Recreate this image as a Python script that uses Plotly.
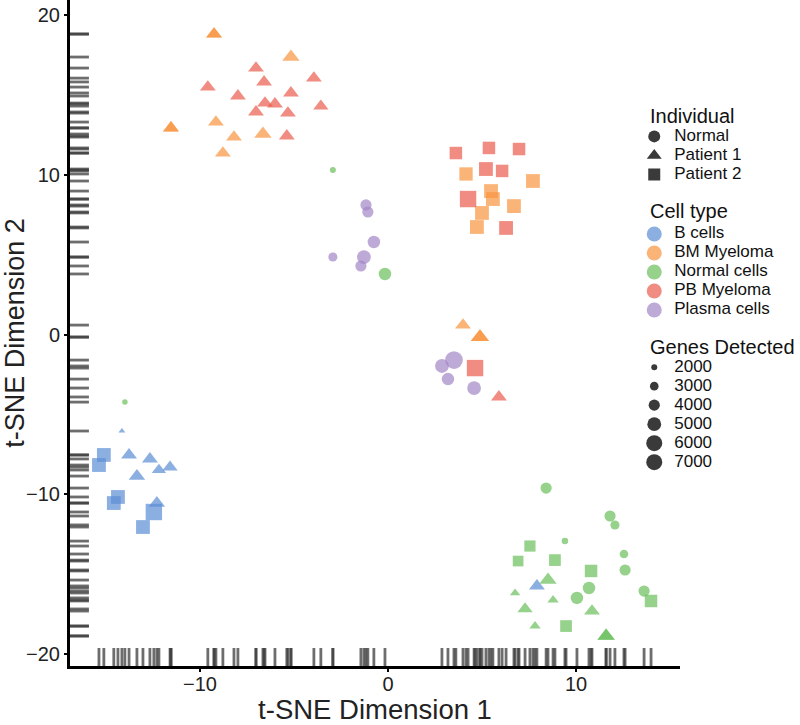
import plotly.graph_objects as go

# ---------------- data ----------------
cell_types = ["B cells", "BM Myeloma", "Normal cells", "PB Myeloma", "Plasma cells"]
individuals = ["Normal", "Patient 1", "Patient 2"]
gene_levels = [2000, 3000, 4000, 5000, 6000, 7000]

tsne1 = [
    # upper-left cluster (Patient 1)
    -9.25, -9.25, -5.16, -7.02, -3.94, -9.58, -6.59, -7.98, -5.16, -6.54, -6.01,
    -3.57, -7.02, -5.32, -11.54, -11.54, -9.15, -8.19, -6.65, -5.38, -8.78,
    # plasma / normal circles
    -2.93, -1.17, -1.07, -0.75, -2.93, -1.28, -1.44, -0.16,
    # upper-right squares (Patient 2)
    3.61, 5.37, 6.97, 4.15, 5.21, 6.07, 7.71, 4.26, 5.48, 5.58, 6.70, 5.00, 4.73, 6.28,
    # middle cluster
    3.99, 4.89, 4.89, 3.51, 2.87, 4.63, 3.19, 4.58, 5.90,
    # B cell cluster
    -13.99, -14.15, -15.11, -15.37, -13.77, -12.66, -13.35, -12.18, -11.59,
    -14.36, -14.58, -12.29, -12.45, -13.03,
    # normal cells cluster
    8.41, 11.81, 12.07, 9.41, 7.55, 6.92, 8.88, 12.55, 10.80, 12.61, 7.92, 8.51,
    6.76, 10.69, 8.78, 10.05, 13.62, 13.99, 7.29, 10.85, 7.82, 9.47, 11.60, 11.60,
]
tsne2 = [
    18.81, 18.81, 17.37, 16.68, 16.05, 15.49, 15.81, 14.93, 15.12, 14.49, 14.43,
    14.30, 13.93, 13.86, 12.93, 12.93, 13.30, 12.36, 12.55, 12.43, 11.36,
    10.30, 8.11, 7.67, 5.79, 4.85, 4.85, 4.29, 3.79,
    11.36, 11.68, 11.61, 10.05, 10.36, 10.24, 9.61, 8.48, 8.98, 8.48, 8.04, 7.61, 6.73, 6.67,
    0.59, -0.16, -0.16, -1.60, -1.97, -2.10, -2.79, -3.35, -3.91,
    -4.23, -6.04, -7.54, -8.17, -7.54, -7.79, -8.86, -8.48, -8.30,
    -10.17, -10.55, -10.55, -11.11, -12.05,
    -9.61, -11.36, -11.92, -12.93, -13.24, -14.18, -14.12, -13.74, -14.80, -14.74, -15.74, -15.37,
    -16.18, -15.87, -16.62, -16.49, -16.06, -16.68, -17.18, -17.31, -18.25, -18.25, -18.87, -18.87,
]
cell = [
    "BM Myeloma", "BM Myeloma", "BM Myeloma", "PB Myeloma", "PB Myeloma", "PB Myeloma", "PB Myeloma",
    "PB Myeloma", "PB Myeloma", "PB Myeloma", "PB Myeloma", "PB Myeloma", "PB Myeloma", "PB Myeloma",
    "BM Myeloma", "BM Myeloma", "BM Myeloma", "BM Myeloma", "BM Myeloma", "PB Myeloma", "BM Myeloma",
    "Normal cells", "Plasma cells", "Plasma cells", "Plasma cells", "Plasma cells", "Plasma cells",
    "Plasma cells", "Normal cells",
    "PB Myeloma", "PB Myeloma", "PB Myeloma", "BM Myeloma", "PB Myeloma", "PB Myeloma", "BM Myeloma",
    "PB Myeloma", "BM Myeloma", "BM Myeloma", "BM Myeloma", "BM Myeloma", "BM Myeloma", "PB Myeloma",
    "BM Myeloma", "BM Myeloma", "BM Myeloma", "Plasma cells", "Plasma cells", "PB Myeloma",
    "Plasma cells", "Plasma cells", "PB Myeloma",
    "Normal cells"] + ["B cells"] * 13 + [
    "Normal cells", "Normal cells", "Normal cells", "Normal cells", "Normal cells", "Normal cells",
    "Normal cells", "Normal cells", "Normal cells", "Normal cells", "B cells", "Normal cells",
    "Normal cells", "Normal cells", "Normal cells", "Normal cells", "Normal cells", "Normal cells",
    "Normal cells", "Normal cells", "Normal cells", "Normal cells", "Normal cells", "Normal cells",
]
indiv = (
    ["Patient 1"] * 21
    + ["Normal"] * 8
    + ["Patient 2"] * 14
    + ["Patient 1", "Patient 1", "Patient 1", "Normal", "Normal", "Patient 2", "Normal", "Normal", "Patient 1"]
    + ["Normal", "Patient 1", "Patient 2", "Patient 2", "Patient 1", "Patient 1", "Patient 1", "Patient 1",
       "Patient 1", "Patient 2", "Patient 2", "Patient 1", "Patient 2", "Patient 2"]
    + ["Normal", "Normal", "Normal", "Normal", "Patient 2", "Patient 2", "Patient 2", "Normal", "Patient 2",
       "Normal", "Patient 1", "Patient 1", "Patient 1", "Normal", "Patient 1", "Normal", "Normal",
       "Patient 2", "Patient 1", "Patient 1", "Patient 1", "Patient 2", "Patient 1", "Patient 1"]
)
genes = [
    5000, 5000, 5500, 5000, 5000, 5000, 5000, 5000, 5000, 5000, 5000,
    4800, 5000, 5000, 5000, 5000, 5000, 5000, 5500, 5000, 5000,
    2000, 4000, 4000, 4500, 3200, 5000, 4000, 4500,
    4500, 4500, 4500, 4800, 5000, 4500, 5000, 6000, 5000, 5000, 5000, 5000, 5000, 5000,
    5000, 5800, 5800, 6500, 5000, 6000, 4500, 5000, 5000,
    1800, 2000, 5000, 5000, 5000, 5000, 5200, 4500, 4800, 5000, 5000, 5200, 6000, 5000,
    4000, 4000, 3200, 2200, 4000, 3800, 4200, 3000, 4500, 4000, 5000, 5500,
    3200, 4500, 3500, 4500, 4000, 4500, 4800, 5000, 3500, 4200, 5500, 5500,
]

# ---------------- styles ----------------
colors = {
    "B cells": "#5B8DD4",
    "BM Myeloma": "#F8943E",
    "Normal cells": "#69BF5B",
    "PB Myeloma": "#E95B4C",
    "Plasma cells": "#A286C6",
}
symbols = {"Normal": "circle", "Patient 1": "triangle-up", "Patient 2": "square"}
ALPHA = 0.7


def size_of(g):
    return 6 + (g - 2000) * 13 / 5000


FONT = "Liberation Sans, Arial, Helvetica, sans-serif"
XR = [-16.91, 15.53]
YR = [-20.75, 20.94]
LEG_LABEL_PX = 17

fig = go.Figure()

for ct in cell_types:
    idx = [i for i, c in enumerate(cell) if c == ct]
    fig.add_trace(go.Scatter(
        x=[tsne1[i] for i in idx], y=[tsne2[i] for i in idx],
        mode="markers", showlegend=False, hoverinfo="skip",
        marker=dict(color=colors[ct], opacity=ALPHA,
                    symbol=[symbols[indiv[i]] for i in idx],
                    size=[size_of(genes[i]) for i in idx],
                    line=dict(width=0)),
    ))

# rugs
rug_line = dict(color="rgba(60,60,60,0.75)", width=2.8)
shapes = []
for v in tsne2:
    shapes.append(dict(type="line", xref="x domain", yref="y", x0=0, x1=0.031, y0=v, y1=v, line=rug_line))
for v in tsne1:
    shapes.append(dict(type="line", xref="x", yref="y domain", x0=v, x1=v, y0=0, y1=0.027, line=rug_line))


def lab(t):
    return f'<span style="font-size:{LEG_LABEL_PX}px">{t}</span>'


# legend traces
legend_sizes = {"Normal": 12, "Patient 1": 13, "Patient 2": 12}
for ind in individuals:
    fig.add_trace(go.Scatter(x=[None], y=[None], mode="markers", name=lab(ind), legend="legend",
                             marker=dict(color="#3a3a3a", symbol=symbols[ind], size=legend_sizes[ind])))
for ct in cell_types:
    fig.add_trace(go.Scatter(x=[None], y=[None], mode="markers", name=lab(ct), legend="legend2",
                             marker=dict(color=colors[ct], opacity=ALPHA, symbol="circle", size=15)))
for g in gene_levels:
    fig.add_trace(go.Scatter(x=[None], y=[None], mode="markers", name=lab(str(g)), legend="legend3",
                             marker=dict(color="#3a3a3a", symbol="circle", size=size_of(g))))

LEG_X = 0.925
leg_common = dict(bgcolor="rgba(0,0,0,0)", font=dict(family=FONT, size=11.5, color="#111"),
                  itemsizing="trace", itemwidth=30, xanchor="left", yanchor="top",
                  tracegroupgap=0, x=LEG_X)
fig.update_layout(
    legend=dict(**leg_common, y=0.817),
    legend2=dict(**leg_common, y=0.6705),
    legend3=dict(**leg_common, y=0.4705),
)

titles = [("Individual", 0.8265), ("Cell type", 0.6830), ("Genes Detected", 0.4790)]
annotations = [dict(text=t, xref="paper", yref="paper", x=0.9475, y=yy, xanchor="left", yanchor="middle",
                    showarrow=False, font=dict(family=FONT, size=20, color="#111")) for t, yy in titles]

axis_common = dict(showgrid=False, zeroline=False, showline=True, linecolor="black", linewidth=3,
                   ticks="outside", ticklen=3, tickwidth=2, tickcolor="black", automargin=False,
                   tickfont=dict(family=FONT, size=20, color="#222"), mirror=False)
fig.update_layout(
    width=800, height=725,
    margin=dict(l=70, r=120, t=0, b=59),
    plot_bgcolor="white", paper_bgcolor="white",
    shapes=shapes, annotations=annotations,
    xaxis=dict(**axis_common, range=XR, tickvals=[-10, 0, 10], ticklabelstandoff=-5,
               title=dict(text="t-SNE Dimension 1", font=dict(family=FONT, size=27.5, color="#222"), standoff=13)),
    yaxis=dict(**axis_common, range=YR, tickvals=[-20, -10, 0, 10, 20],
               title=dict(text="t-SNE Dimension 2", font=dict(family=FONT, size=27, color="#222"), standoff=3)),
)

fig.write_html("out.html", config={"displayModeBar": False},
               post_script="document.body.style.margin='0';")
